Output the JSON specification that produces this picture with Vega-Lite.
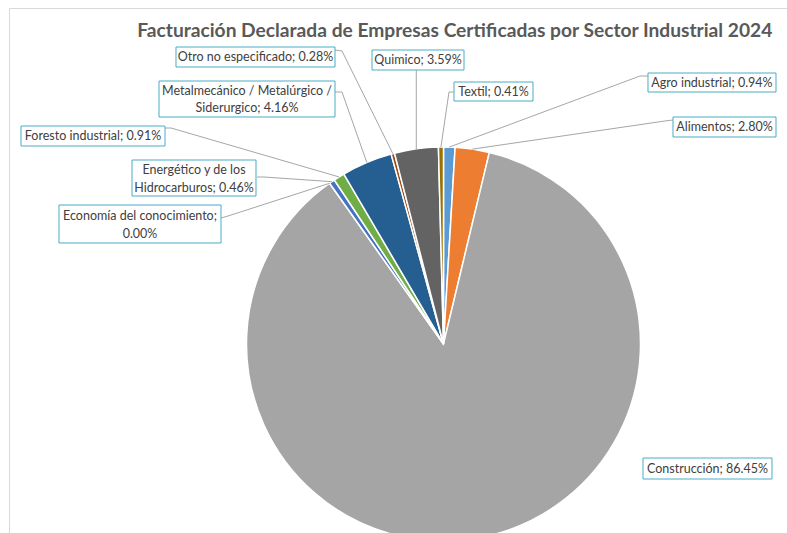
{
  "$schema": "https://vega.github.io/schema/vega-lite/v6.json",
  "width": 778,
  "height": 525,
  "autosize": {"type": "none"},
  "padding": {"left": 9, "top": 8, "right": 0, "bottom": 0},
  "background": "white",
  "config": {"view": {"stroke": "#D9D9D9", "strokeWidth": 1}},
  "datasets": {
    "sectors": [
      {"sector": "Agro industrial", "value": 0.94},
      {"sector": "Alimentos", "value": 2.80},
      {"sector": "Construcción", "value": 86.45},
      {"sector": "Economía del conocimiento", "value": 0.00},
      {"sector": "Energético y de los Hidrocarburos", "value": 0.46},
      {"sector": "Foresto industrial", "value": 0.91},
      {"sector": "Metalmecánico / Metalúrgico / Siderurgico", "value": 4.16},
      {"sector": "Otro no especificado", "value": 0.28},
      {"sector": "Quimico", "value": 3.59},
      {"sector": "Textil", "value": 0.41}
    ],
    "labels": [
      {"sector": "Otro no especificado", "text": "Otro no especificado; 0.28%", "cx": -95.44, "cy": 145.69, "x1": -135.79, "x2": -55.08, "y1": 150.76, "y2": 140.61},
      {"sector": "Quimico", "text": "Quimico; 3.59%", "cx": -12.94, "cy": 144.16, "x1": -36.29, "x2": 10.41, "y1": 149.24, "y2": 139.09},
      {"sector": "Textil", "text": "Textil; 0.41%", "cx": 25.38, "cy": 128.17, "x1": 5.33, "x2": 45.43, "y1": 132.99, "y2": 123.35},
      {"sector": "Agro industrial", "text": "Agro industrial; 0.94%", "cx": 136.29, "cy": 132.74, "x1": 103.81, "x2": 168.78, "y1": 137.56, "y2": 127.92},
      {"sector": "Alimentos", "text": "Alimentos; 2.80%", "cx": 142.64, "cy": 110.15, "x1": 116.5, "x2": 168.78, "y1": 115.23, "y2": 105.08},
      {"sector": "Metalmecánico / Metalúrgico / Siderurgico", "text": "Metalmecánico / Metalúrgico /|Siderurgico; 4.16%", "cx": -99.75, "cy": 124.37, "x1": -144.42, "x2": -55.08, "y1": 133.5, "y2": 115.23},
      {"sector": "Foresto industrial", "text": "Foresto industrial; 0.91%", "cx": -177.92, "cy": 105.58, "x1": -214.47, "x2": -141.37, "y1": 110.66, "y2": 100.51},
      {"sector": "Energético y de los Hidrocarburos", "text": "Energético y de los|Hidrocarburos; 0.46%", "cx": -126.65, "cy": 84.26, "x1": -158.12, "x2": -95.18, "y1": 93.4, "y2": 75.13},
      {"sector": "Economía del conocimiento", "text": "Economía del conocimiento;|0.00%", "cx": -154.06, "cy": 60.91, "x1": -195.18, "x2": -112.94, "y1": 70.56, "y2": 51.27},
      {"sector": "Construcción", "text": "Construcción; 86.45%", "cx": 134.01, "cy": -63.2, "x1": 101.27, "x2": 166.75, "y1": -57.87, "y2": -68.53}
    ],
    "leaders": [
      {"sector": "Otro no especificado", "seq": 1, "lx": -55.08, "ly": 149.24},
      {"sector": "Otro no especificado", "seq": 2, "lx": -51.52, "ly": 148.73},
      {"sector": "Otro no especificado", "seq": 3, "lx": -25.7, "ly": 96.6},
      {"sector": "Quimico", "seq": 1, "lx": -13.81, "ly": 139.09},
      {"sector": "Quimico", "seq": 2, "lx": -13.8, "ly": 99.0},
      {"sector": "Textil", "seq": 1, "lx": 5.33, "ly": 127.92},
      {"sector": "Textil", "seq": 2, "lx": 2.79, "ly": 127.92},
      {"sector": "Textil", "seq": 3, "lx": -1.3, "ly": 100.0},
      {"sector": "Agro industrial", "seq": 1, "lx": 103.81, "ly": 136.04},
      {"sector": "Agro industrial", "seq": 2, "lx": 99.75, "ly": 136.04},
      {"sector": "Agro industrial", "seq": 3, "lx": 2.95, "ly": 99.96},
      {"sector": "Alimentos", "seq": 1, "lx": 116.5, "ly": 113.71},
      {"sector": "Alimentos", "seq": 2, "lx": 112.44, "ly": 113.2},
      {"sector": "Alimentos", "seq": 3, "lx": 14.64, "ly": 98.92},
      {"sector": "Metalmecánico / Metalúrgico / Siderurgico", "seq": 1, "lx": -55.08, "ly": 127.92},
      {"sector": "Metalmecánico / Metalúrgico / Siderurgico", "seq": 2, "lx": -51.52, "ly": 127.92},
      {"sector": "Metalmecánico / Metalúrgico / Siderurgico", "seq": 3, "lx": -38.9, "ly": 92.1},
      {"sector": "Foresto industrial", "seq": 1, "lx": -141.37, "ly": 109.64},
      {"sector": "Foresto industrial", "seq": 2, "lx": -138.32, "ly": 109.64},
      {"sector": "Foresto industrial", "seq": 3, "lx": -53.0, "ly": 84.8},
      {"sector": "Energético y de los Hidrocarburos", "seq": 1, "lx": -94.67, "ly": 84.77},
      {"sector": "Energético y de los Hidrocarburos", "seq": 2, "lx": -91.12, "ly": 84.77},
      {"sector": "Energético y de los Hidrocarburos", "seq": 3, "lx": -56.6, "ly": 82.4},
      {"sector": "Economía del conocimiento", "seq": 1, "lx": -112.94, "ly": 63.96},
      {"sector": "Economía del conocimiento", "seq": 2, "lx": -109.39, "ly": 64.97},
      {"sector": "Economía del conocimiento", "seq": 3, "lx": -57.8, "ly": 81.6}
    ]
  },
  "layer": [
    {
      "data": {"name": "sectors"},
      "mark": {"type": "arc", "outerRadius": 197, "stroke": "white", "strokeWidth": 1.5},
      "encoding": {
        "x": {"datum": 0, "type": "quantitative", "scale": {"domain": [-220.56, 174.37], "nice": false, "zero": false}, "axis": null},
        "y": {"datum": 0, "type": "quantitative", "scale": {"domain": [-95.94, 170.56], "nice": false, "zero": false}, "axis": null},
        "theta": {"field": "value", "type": "quantitative", "stack": true},
        "order": {"field": "sector", "type": "ordinal", "sort": "ascending"},
        "color": {
          "field": "sector", "type": "nominal", "legend": null,
          "scale": {
            "domain": ["Agro industrial", "Alimentos", "Construcción", "Economía del conocimiento", "Energético y de los Hidrocarburos", "Foresto industrial", "Metalmecánico / Metalúrgico / Siderurgico", "Otro no especificado", "Quimico", "Textil"],
            "range": ["#5B9BD5", "#ED7D31", "#A5A5A5", "#FFC000", "#4472C4", "#70AD47", "#255E91", "#9E480E", "#636363", "#997300"]
          }
        }
      }
    },
    {
      "data": {"name": "leaders"},
      "mark": {"type": "line", "color": "#A6A6A6", "strokeWidth": 1},
      "encoding": {
        "x": {"field": "lx", "type": "quantitative", "axis": null},
        "y": {"field": "ly", "type": "quantitative", "axis": null},
        "detail": {"field": "sector", "type": "nominal"},
        "order": {"field": "seq", "type": "quantitative"}
      }
    },
    {
      "data": {"name": "labels"},
      "mark": {"type": "rect", "fill": "white", "stroke": "#4BACC6", "strokeWidth": 1},
      "encoding": {
        "x": {"field": "x1", "type": "quantitative", "axis": null},
        "x2": {"field": "x2"},
        "y": {"field": "y1", "type": "quantitative", "axis": null},
        "y2": {"field": "y2"}
      }
    },
    {
      "data": {"name": "labels"},
      "transform": [{"filter": "indexof(datum.text, '|') < 0"}],
      "mark": {"type": "text", "font": "Lato", "fontSize": 12.5, "color": "#404040", "align": "center", "baseline": "middle"},
      "encoding": {
        "x": {"field": "cx", "type": "quantitative", "axis": null},
        "y": {"field": "cy", "type": "quantitative", "axis": null},
        "text": {"field": "text", "type": "nominal"}
      }
    },
    {
      "data": {"name": "labels"},
      "transform": [{"filter": "indexof(datum.text, '|') >= 0"}],
      "mark": {"type": "text", "font": "Lato", "fontSize": 12.5, "color": "#404040", "align": "center", "baseline": "middle", "lineBreak": "|", "lineHeight": 17.5, "dy": -8},
      "encoding": {
        "x": {"field": "cx", "type": "quantitative", "axis": null},
        "y": {"field": "cy", "type": "quantitative", "axis": null},
        "text": {"field": "text", "type": "nominal"}
      }
    },
    {
      "data": {"values": [{"title": "Facturación Declarada de Empresas Certificadas por Sector Industrial 2024"}]},
      "mark": {"type": "text", "font": "Lato", "fontSize": 19.2, "fontWeight": "bold", "color": "#595959", "align": "center", "baseline": "middle"},
      "encoding": {
        "x": {"datum": 5.71, "type": "quantitative", "axis": null},
        "y": {"datum": 158.88, "type": "quantitative", "axis": null},
        "text": {"field": "title", "type": "nominal"}
      }
    }
  ]
}
